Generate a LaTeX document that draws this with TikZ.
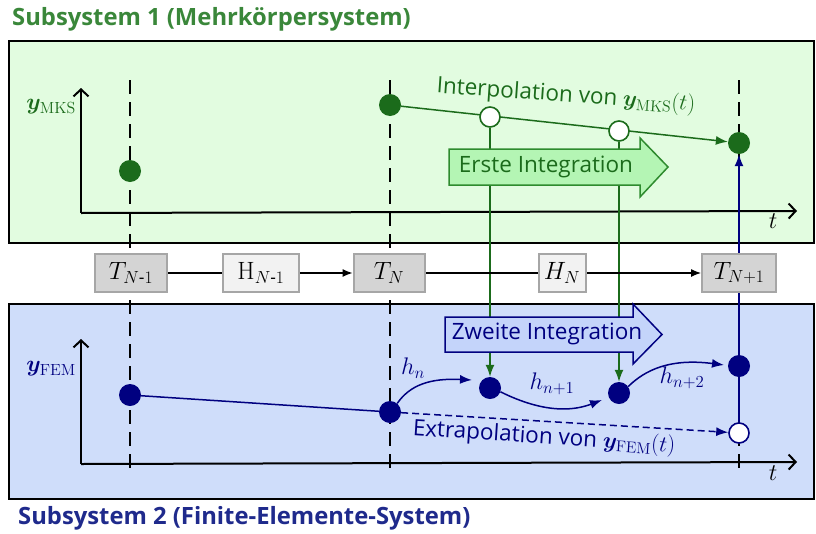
\RequirePackage{fix-cm}
\documentclass[tikz,border=0pt]{standalone}
\usepackage{amsmath,bm}
\usepackage[no-math]{fontspec}
\setmainfont{Open Sans}
\usetikzlibrary{arrows.meta}
\definecolor{greenfill}{HTML}{E2FCE0}
\definecolor{bluefill}{HTML}{CFDDFA}
\definecolor{dkgreen}{HTML}{1B6B1B}
\definecolor{titlegreen}{HTML}{3A873A}
\definecolor{titleblue}{HTML}{1F2A8C}
\definecolor{navy}{HTML}{000080}
\definecolor{arrgfill}{HTML}{B4F5B4}
\definecolor{arrgdraw}{HTML}{2E8B2E}
\definecolor{arrbfill}{HTML}{C4D4FA}
\definecolor{boxgray}{HTML}{D4D4D4}
\definecolor{boxlight}{HTML}{F2F2F2}
\definecolor{boxborder}{HTML}{A6A6A6}
\pgfdeclarelayer{back}
\pgfdeclarelayer{lines}
\pgfsetlayers{back,lines,main}
\begin{document}
\begin{tikzpicture}[x=1pt,y=-1pt,
  dotG/.style={circle,fill=dkgreen,minimum size=22pt,inner sep=0pt},
  openG/.style={circle,draw=dkgreen,line width=1.6pt,fill=white,minimum size=20pt,inner sep=0pt},
  dotB/.style={circle,fill=navy,minimum size=22pt,inner sep=0pt},
  openB/.style={circle,draw=navy,line width=1.6pt,fill=white,minimum size=20pt,inner sep=0pt},
  tbox/.style={draw=boxborder,line width=2pt,fill=boxgray,minimum height=38pt,inner sep=0pt,font=\fontsize{25}{28}\selectfont},
  hbox/.style={tbox,fill=boxlight},
  vdash/.style={line width=1.3pt,dash pattern=on 14pt off 8pt},
  axis/.style={line width=2pt,-{Straight Barb[length=7pt,width=15pt]}},
  gline/.style={dkgreen,line width=1.5pt},
  bline/.style={navy,line width=1.5pt},
  tip/.style={-{Latex[length=12pt,width=9pt]}},
  lbl/.style={font=\fontsize{22.5}{26}\selectfont},
  mlbl/.style={font=\fontsize{24}{28}\selectfont},
  ylbl/.style={font=\fontsize{23}{28}\selectfont,anchor=east,inner sep=0pt}
]
\useasboundingbox (0,0) rectangle (816,533);

% titles
\node[anchor=west,text=titlegreen,font=\fontsize{23.8}{28}\bfseries\selectfont,inner sep=0pt] (title1) at (12,19) {Subsystem 1 (Mehrkörpersystem)};
\node[anchor=west,text=titleblue,font=\fontsize{23.8}{28}\bfseries\selectfont,inner sep=0pt] (title2) at (18,518) {Subsystem 2 (Finite-Elemente-System)};

% panels
\begin{pgfonlayer}{back}
\draw[line width=1.5pt,fill=greenfill] (9,41) rectangle (814,243);
\draw[line width=1.5pt,fill=bluefill] (9,304) rectangle (814,499);
\coordinate (v1t) at (130,80); \coordinate (v1b) at (130,470);
\coordinate (v2t) at (390,80); \coordinate (v2b) at (390,470);
\coordinate (v3t) at (739,80); \coordinate (v3b) at (739,470);
\draw[vdash] (v1t) -- (v1b);
\draw[vdash] (v2t) -- (v2b);
\draw[vdash] (v3t) -- (v3b);
\end{pgfonlayer}

% axes
\coordinate (a1o) at (81,213); \coordinate (a1y) at (81,88); \coordinate (a1x) at (797,211);
\coordinate (a2o) at (81,464); \coordinate (a2y) at (81,339); \coordinate (a2x) at (797,462);
\node[text=dkgreen,ylbl] (ylab1) at (76,107) {$\bm{y}_{\mathrm{MKS}}$};
\node[text=navy,ylbl] (ylab2) at (76,369) {$\bm{y}_{\mathrm{FEM}}$};
\node[mlbl] (t1) at (773,221) {$t$};
\node[mlbl] (t2) at (773,473) {$t$};

% upper points
\node[dotG] (g0) at (130,171) {};
\node[dotG] (g1) at (390,105) {};
\node[openG] (o1) at (490,117) {};
\node[openG] (o2) at (619,131) {};
\node[dotG] (g2) at (739,143) {};

% lower points
\node[dotB] (b0) at (130,395) {};
\node[dotB] (b1) at (390,412) {};
\node[dotB] (b2) at (490,388) {};
\node[dotB] (b3) at (619,393) {};
\node[dotB] (b4) at (739,366) {};
\node[openB] (ob) at (739,433) {};

% boxes
\node[tbox,minimum width=72pt] (T1) at (131,273) {$T_{N\text{-}1}$};
\node[hbox,minimum width=76pt] (H1) at (261,273) {$\mathrm{H}_{N\text{-}1}$};
\node[tbox,minimum width=71pt] (T2) at (389,273) {$T_{N}$};
\node[hbox,minimum width=47pt] (H2) at (562,273) {$H_{N}$};
\node[tbox,minimum width=74pt] (T3) at (739,273) {$T_{N+1}$};

% big arrows
\draw[draw=arrgdraw,fill=arrgfill,line width=1.5pt] (449,149) -- (640,149) -- (640,138) -- (668,167) -- (640,197) -- (640,185) -- (449,185) -- cycle;
\node[text=dkgreen,lbl] (erste) at (546,167) {Erste Integration};
\draw[draw=navy,fill=arrbfill,line width=1.5pt] (445,317) -- (633,317) -- (633,304) -- (662,334.5) -- (633,364) -- (633,352) -- (445,352) -- cycle;
\node[text=navy,lbl] (zweite) at (547,334) {Zweite Integration};

% labels
\node[text=dkgreen,lbl,rotate=-4] (interp) at (566,96) {Interpolation von $\bm{y}_{\mathrm{MKS}}(t)$};
\node[text=navy,lbl,rotate=-3.7] (extrap) at (544,438) {Extrapolation von $\bm{y}_{\mathrm{FEM}}(t)$};
\node[text=navy,mlbl] (hn) at (413,368) {$h_n$};
\node[text=navy,mlbl] (hn1) at (552,384) {$h_{n+1}$};
\node[text=navy,mlbl] (hn2) at (682,378) {$h_{n+2}$};

\coordinate (e1) at (472,380);
\coordinate (e2) at (602,400);
\coordinate (e3) at (724,365);

\begin{pgfonlayer}{lines}
\draw[axis] (a1o) -- (a1y);
\draw[axis] (a1o) -- (a1x);
\draw[axis] (a2o) -- (a2y);
\draw[axis] (a2o) -- (a2x);
\draw[gline,tip] (g1) -- (g2);
\draw[gline,tip] (o1) -- (b2);
\draw[gline,tip] (o2) -- (b3);
\draw[bline,tip] (ob) -- (g2);
\draw[bline] (b0) -- (b1);
\draw[bline,tip,dash pattern=on 7pt off 4pt] (b1) -- (ob);
\draw[bline,tip] (b1.50) .. controls (410,385) and (430,378) .. (e1);
\draw[bline,tip] (b2.-20) .. controls (525,404) and (560,416) .. (e2);
\draw[bline,tip] (b3.35) .. controls (645,370) and (670,358) .. (e3);
\draw[line width=1.2pt] (T1) -- (H1);
\draw[line width=1.2pt,-{Latex[length=10pt,width=8pt]}] (H1) -- (T2);
\draw[line width=1.2pt] (T2) -- (H2);
\draw[line width=1.2pt,-{Latex[length=10pt,width=8pt]}] (H2) -- (T3);
\end{pgfonlayer}
\end{tikzpicture}
\end{document}
